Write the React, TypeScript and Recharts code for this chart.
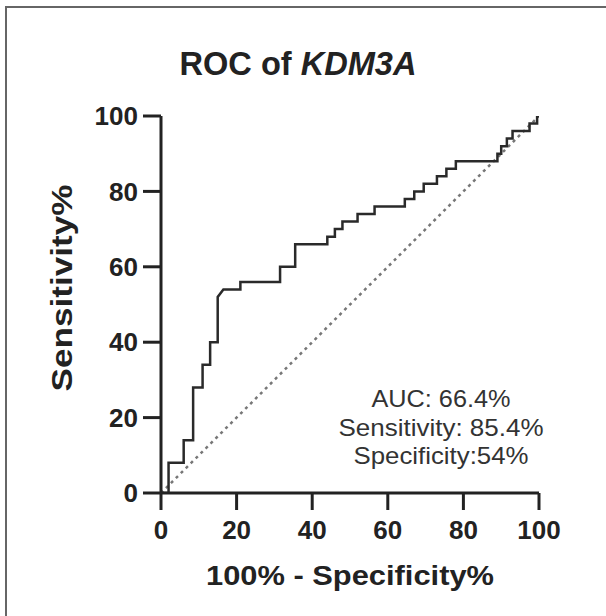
import { Line, LineChart, XAxis, YAxis } from "recharts";

// ROC curve corners (100% - specificity vs sensitivity)
const fpr = [
  0, 2, 2, 6, 6, 8.5, 8.5, 11, 11, 13, 13, 15, 15, 16.5, 21, 21, 31.5, 31.5,
  35.5, 35.5, 44, 44, 46, 46, 48, 48, 52, 52, 56.5, 56.5, 64.5, 64.5, 67, 67,
  69.5, 69.5, 73, 73, 75.5, 75.5, 78, 78, 89, 89, 90, 90, 91.5, 91.5, 93, 93,
  97.5, 97.5, 99.5, 99.5, 100,
];
const tpr = [
  0, 0, 8, 8, 14, 14, 28, 28, 34, 34, 40, 40, 52, 54, 54, 56, 56, 60, 60, 66,
  66, 68, 68, 70, 70, 72, 72, 74, 74, 76, 76, 78, 78, 80, 80, 82, 82, 84, 84,
  86, 86, 88, 88, 90, 90, 92, 92, 94, 94, 96, 96, 98, 98, 100, 100,
];
const chanceX = [0, 100];
const chanceY = [0, 100];
const xTicks = [0, 20, 40, 60, 80, 100];
const yTicks = [0, 20, 40, 60, 80, 100];
const statLines = ["AUC: 66.4%", "Sensitivity: 85.4%", "Specificity:54%"];
const statWidths = [139, 205, 175];

const rocData = fpr.map((x, i) => ({ x, y: tpr[i] }));
const chanceData = chanceX.map((x, i) => ({ x, y: chanceY[i] }));

const font = '"Liberation Sans", Arial, Helvetica, sans-serif';
const ink = "#222";

export default function App() {
  return (
    <div
      style={{
        position: "absolute",
        left: 0,
        top: 0,
        width: 606,
        height: 616,
        background: "#fff",
        fontFamily: font,
      }}
    >
      <LineChart
        width={606}
        height={616}
        margin={{ top: 116, right: 67, left: 0, bottom: 0 }}
      >
        <XAxis
          type="number"
          dataKey="x"
          domain={[0, 100]}
          ticks={xTicks}
          allowDataOverflow
          stroke={ink}
          strokeWidth={3}
          tickSize={17}
          tickMargin={11}
          height={123}
          tick={{ fill: ink, fontSize: 26, fontWeight: 700, fontFamily: font }}
        />
        <YAxis
          type="number"
          dataKey="y"
          domain={[0, 100]}
          ticks={yTicks}
          allowDataOverflow
          stroke={ink}
          strokeWidth={3}
          tickSize={18}
          tickMargin={5}
          width={161}
          tick={{ fill: ink, fontSize: 26, fontWeight: 700, fontFamily: font }}
        />
        <Line
          data={chanceData}
          dataKey="y"
          type="linear"
          stroke="#777"
          strokeWidth={2.5}
          strokeDasharray="3 4"
          dot={false}
          activeDot={false}
          isAnimationActive={false}
        />
        <Line
          data={rocData}
          dataKey="y"
          type="linear"
          stroke="#2a2a2a"
          strokeWidth={2.5}
          dot={false}
          activeDot={false}
          isAnimationActive={false}
        />
      </LineChart>
      <svg
        width={606}
        height={616}
        style={{ position: "absolute", left: 0, top: 0, pointerEvents: "none" }}
      >
        <line x1={5} y1={7} x2={606} y2={7} stroke="#666" strokeWidth={2} />
        <line x1={6} y1={6} x2={6} y2={616} stroke="#666" strokeWidth={2} />
        <text
          x={298}
          y={75}
          textAnchor="middle"
          fontFamily={font}
          fontWeight={700}
          fontSize={34}
          fill={ink}
          textLength={237}
          lengthAdjust="spacingAndGlyphs"
        >
          ROC of <tspan fontStyle="italic">KDM3A</tspan>
        </text>
        <text
          x={350}
          y={585}
          textAnchor="middle"
          fontFamily={font}
          fontWeight={700}
          fontSize={28}
          fill={ink}
          textLength={288}
          lengthAdjust="spacingAndGlyphs"
        >
          100% - Specificity%
        </text>
        <text
          transform="translate(72 288) rotate(-90)"
          textAnchor="middle"
          fontFamily={font}
          fontWeight={700}
          fontSize={30}
          fill={ink}
          textLength={207}
          lengthAdjust="spacingAndGlyphs"
        >
          Sensitivity%
        </text>
        {statLines.map((s, i) => (
          <text
            key={s}
            x={441}
            y={407 + i * 28.5}
            textAnchor="middle"
            fontFamily={font}
            fontSize={24}
            fill="#333"
            textLength={statWidths[i]}
            lengthAdjust="spacingAndGlyphs"
          >
            {s}
          </text>
        ))}
      </svg>
    </div>
  );
}
